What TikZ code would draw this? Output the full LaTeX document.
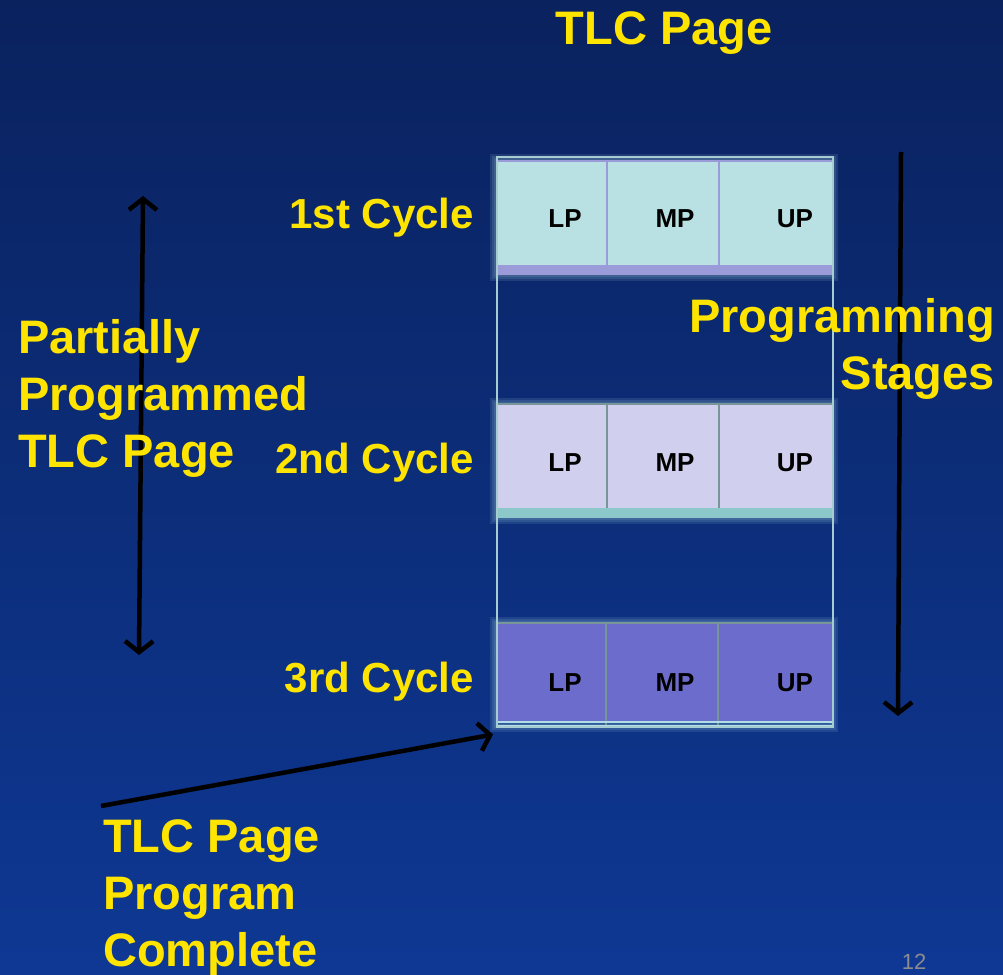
\documentclass[tikz,border=0pt]{standalone}
\usepackage{fontspec}
\setmainfont{Liberation Sans}
\usetikzlibrary{arrows.meta}
\definecolor{bgtop}{RGB}{10,34,94}
\definecolor{bgbot}{RGB}{14,56,148}
\definecolor{ylw}{RGB}{255,228,0}
\definecolor{rowA}{RGB}{185,224,226}
\definecolor{rowB}{RGB}{208,208,238}
\definecolor{rowC}{RGB}{108,108,204}
\definecolor{barA}{RGB}{156,155,218}
\definecolor{barB}{RGB}{140,200,202}
\definecolor{edgeC}{RGB}{176,222,230}
\definecolor{divG}{RGB}{120,150,152}
\begin{document}
\begin{tikzpicture}[x=1pt,y=-1pt,
  big/.style={text=ylw,font=\fontsize{47}{57}\selectfont\bfseries,inner sep=0pt},
  cyc/.style={text=ylw,font=\fontsize{42}{50}\selectfont\bfseries,inner sep=0pt,anchor=east},
  cell/.style={text=black,font=\fontsize{26}{30}\selectfont\bfseries,inner sep=0pt},
  arr/.style={line width=4.5pt,draw=black},
  tipb/.tip={Straight Barb[length=11pt,width=28pt,line width=4.5pt]},
  glow/.style={draw=edgeC,line width=#1,opacity=0.12}]
\useasboundingbox (0,0) rectangle (1003,974);
\shade[top color=bgtop,bottom color=bgbot] (0,0) rectangle (1003,974);
% glow around rows
\foreach \w in {4,8,12}{
  \draw[glow=\w pt] (496,160) rectangle (832,275);
  \draw[glow=\w pt] (496,404) rectangle (832,518);
  \draw[glow=\w pt] (496,623) rectangle (832,726);
}
% row 1
\fill[rowA] (496,160) rectangle (832,265);
\fill[barA] (496,265) rectangle (832,275);
\draw[barA,line width=2pt] (496,161) -- (832,161);
\draw[barA,line width=2pt] (607,161) -- (607,265) (719,161) -- (719,265);
% row 2
\fill[rowB] (496,404) rectangle (832,508);
\fill[barB] (496,508) rectangle (832,518);
\draw[divG,line width=1.5pt] (496,404) -- (832,404);
\draw[divG,line width=2pt] (607,404) -- (607,508) (719,404) -- (719,508);
% row 3
\fill[rowC] (496,623) rectangle (832,722);
\draw[divG,line width=1.5pt] (496,623) -- (832,623);
\draw[divG,line width=2pt] (606,623) -- (606,727) (718,623) -- (718,727);
\draw[edgeC,line width=1.5pt] (496,722) -- (832,722) (496,726) -- (832,726);
% frame
\node[draw=edgeC!80!gray,line width=1.5pt,minimum width=336pt,minimum height=570pt,inner sep=0pt,anchor=north west] (frame) at (496,156) {};
% cell labels
\node[cell] (lp1) at (565,219) {LP};
\node[cell] (mp1) at (675,219) {MP};
\node[cell] (up1) at (795,219) {UP};
\node[cell] (lp2) at (565,463) {LP};
\node[cell] (mp2) at (675,463) {MP};
\node[cell] (up2) at (795,463) {UP};
\node[cell] (lp3) at (565,683) {LP};
\node[cell] (mp3) at (675,683) {MP};
\node[cell] (up3) at (795,683) {UP};
% arrows (behind texts)
\coordinate (ltop) at (143,196);
\coordinate (lbot) at (139,655);
\draw[arr,tipb-tipb] (ltop) -- (lbot);
\coordinate (rtop) at (901,152);
\coordinate (rbot) at (898,716);
\draw[arr,-tipb] (rtop) -- (rbot);
\coordinate (dstart) at (101,806);
\draw[arr,-tipb] (dstart) -- ([xshift=-3pt,yshift=-7pt]frame.south west);
% texts
\node[big] (title) at (664,33) {TLC Page};
\node[cyc] (c1) at (474,218) {1st Cycle};
\node[cyc] (c2) at (474,463) {2nd Cycle};
\node[cyc] (c3) at (474,682) {3rd Cycle};
\node[big,anchor=north west,align=left] (partial) at (18,319) {Partially\\Programmed\\TLC Page};
\node[big,anchor=north east,align=right] (stages) at (995,298) {Programming\\Stages};
\node[big,anchor=north west,align=left] (complete) at (103,819) {TLC Page\\Program\\Complete};
\node[text=gray!90,font=\fontsize{22}{26}\selectfont,inner sep=0pt] (pgno) at (914,962) {12};
\end{tikzpicture}
\end{document}
